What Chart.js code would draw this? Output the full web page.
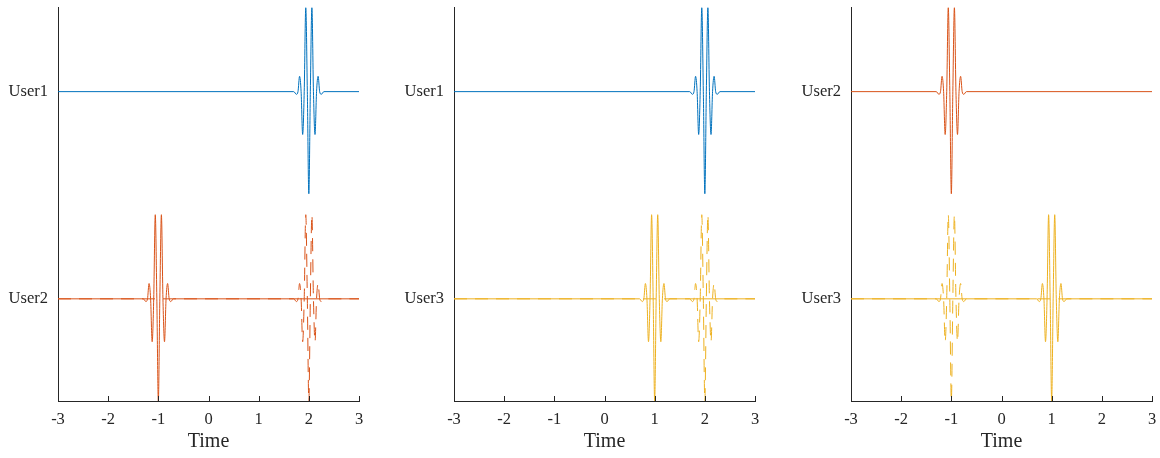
<!DOCTYPE html>
<html>
<head>
<meta charset="utf-8">
<script src="https://cdn.jsdelivr.net/npm/chart.js@4/dist/chart.umd.min.js"></script>
<style>
  html, body { margin: 0; padding: 0; background: #fff; overflow: hidden; }
  #wrap { position: relative; width: 1160px; height: 458px; }
  #wrap canvas { position: absolute; top: 0; }
</style>
</head>
<body>
<div id="wrap">
  <canvas id="p0" width="367" height="458"></canvas>
  <canvas id="p1" width="367" height="458"></canvas>
  <canvas id="p2" width="367" height="458"></canvas>
</div>
<script>
// time axis
const timeTicks = [-3, -2, -1, 0, 1, 2, 3];
const timeMin = -3, timeMax = 3;

// one pulse: offsets from centre and height above its user row
const pulseOffsets = [-0.30, -0.248, -0.216, -0.185, -0.154, -0.123, -0.092, -0.061, -0.03, 0,
                      0.03, 0.061, 0.092, 0.123, 0.154, 0.185, 0.216, 0.248, 0.30];
const pulseShape = [0, -0.013, 0, 0.074, 0, -0.207, 0, 0.406, 0, -0.493,
                    0, 0.406, 0, -0.207, 0, 0.074, 0, -0.013, 0];

// rows: bottom row is level 0, top row is level 1
const topUser = ['User1', 'User1', 'User2'];
const bottomUser = ['User2', 'User3', 'User3'];
const topPulseAt = [2, 2, -1];
const bottomPulseAt = [-1, 1, 1];
const echoPulseAt = [2, 2, -1];   // dashed copy on the bottom row

const yMin = -0.493, yMax = 1.406;

// styling
const userColors = { User1: '#0072BD', User2: '#D95319', User3: '#EDB120' };
const axisColor = '#262626';
const fontFamily = '"Liberation Serif", "Times New Roman", serif';
const panelLeft = [0, 396, 793];   // canvas left, chart area starts 58px in

function trace(level, centre) {
  let pts = [{ x: timeMin, y: level }];
  pulseOffsets.forEach((d, i) => pts.push({ x: centre + d, y: level + pulseShape[i] }));
  pts.push({ x: timeMax, y: level });
  return pts;
}

// MATLAB style ticks pointing into the plot
const innerTicks = {
  id: 'innerTicks',
  afterDatasetsDraw(chart) {
    const ctx = chart.ctx, xs = chart.scales.x, area = chart.chartArea;
    ctx.save();
    ctx.strokeStyle = axisColor;
    ctx.lineWidth = 1;
    ctx.beginPath();
    timeTicks.forEach(t => {
      const px = Math.round(xs.getPixelForValue(t)) + 0.5;
      ctx.moveTo(px, area.bottom);
      ctx.lineTo(px, area.bottom - 5);
    });
    ctx.stroke();
    ctx.restore();
  }
};

function makePanel(i) {
  const canvas = document.getElementById('p' + i);
  canvas.style.left = panelLeft[i] + 'px';
  const rowNames = [bottomUser[i], topUser[i]];
  const line = (data, color, dash) => ({
    data: data,
    borderColor: color,
    borderWidth: 1,
    borderDash: dash,
    pointRadius: 0,
    fill: false,
    cubicInterpolationMode: 'monotone'
  });
  return new Chart(canvas, {
    type: 'line',
    data: {
      datasets: [
        line(trace(1, topPulseAt[i]), userColors[topUser[i]], []),
        line(trace(0, bottomPulseAt[i]), userColors[bottomUser[i]], []),
        line(trace(0, echoPulseAt[i]), userColors[bottomUser[i]], [13, 8])
      ]
    },
    options: {
      responsive: false,
      animation: false,
      events: [],
      layout: { padding: { top: 7.5, right: 8, left: 0, bottom: 0 } },
      plugins: { legend: { display: false }, tooltip: { enabled: false } },
      scales: {
        x: {
          type: 'linear',
          min: timeMin, max: timeMax,
          afterBuildTicks: s => { s.ticks = timeTicks.map(v => ({ value: v })); },
          afterFit: s => { s.height = 57; s.paddingLeft = 0; s.paddingRight = 0; },
          grid: { drawOnChartArea: false, drawTicks: false },
          border: { color: axisColor, width: 1 },
          ticks: {
            padding: 9,
            color: axisColor,
            font: { family: fontFamily, size: 16.5 },
            maxRotation: 0,
            callback: v => String(v)
          },
          title: {
            display: true,
            text: 'Time',
            color: axisColor,
            font: { family: fontFamily, size: 20 },
            padding: { top: 0, bottom: 4 }
          }
        },
        y: {
          type: 'linear',
          min: yMin, max: yMax,
          afterBuildTicks: s => { s.ticks = [0, 1].map(v => ({ value: v })); },
          afterFit: s => { s.width = 58; s.paddingTop = 0; s.paddingBottom = 0; },
          grid: { drawOnChartArea: false, drawTicks: false },
          border: { color: axisColor, width: 1 },
          ticks: {
            padding: 10,
            color: axisColor,
            font: { family: fontFamily, size: 16.5 },
            callback: v => rowNames[v]
          }
        }
      }
    },
    plugins: [innerTicks]
  });
}

[0, 1, 2].forEach(makePanel);
</script>
</body>
</html>
